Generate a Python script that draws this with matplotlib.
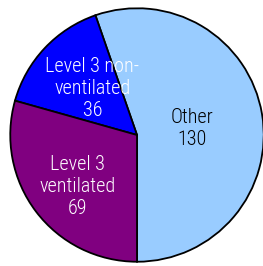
import matplotlib
matplotlib.use("Agg")
import matplotlib.pyplot as plt
import numpy as np

# slice data, drawn counter-clockwise from the bottom
names = ["Other", "Level 3 non-\nventilated", "Level 3\nventilated"]
counts = [130, 36, 69]
colors = ["#99ccff", "#0000ff", "#800080"]
textcolors = ["black", "white", "white"]
# label placement inside each slice: radius and angle nudge (deg)
labeldist = [0.44, 0.51, 0.62]
labelturn = [-2.5, -3, 4]

plt.rcParams["font.family"] = ["Roboto Condensed", "DejaVu Sans"]

fig = plt.figure(figsize=(2.63, 2.66), dpi=100)
ax = fig.add_axes([9 / 263, 3 / 266, 256 / 263, 256 / 266])

wedges, _ = ax.pie(counts, colors=colors, startangle=-90, counterclock=True,
                   wedgeprops={"edgecolor": "black", "linewidth": 1.3})

for w, name, c, tc, d, t in zip(wedges, names, counts, textcolors, labeldist, labelturn):
    mid = np.deg2rad((w.theta1 + w.theta2) / 2 + t)
    ax.text(d * np.cos(mid), d * np.sin(mid), name + "\n" + str(c),
            ha="center", va="center", color=tc, fontsize=14.5, linespacing=1.2,
            fontweight="light")

ax.set_xlim(-1.01, 1.01)
ax.set_ylim(-1.01, 1.01)
ax.set_aspect("equal")
ax.axis("off")

fig.savefig("out.png", dpi=100)
